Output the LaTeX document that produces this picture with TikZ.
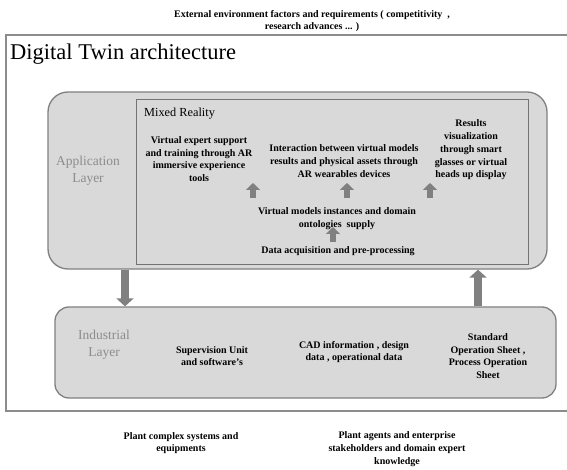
\documentclass[tikz,border=0pt]{standalone}
\usepackage{fontspec}
\setmainfont{Liberation Serif}
\usetikzlibrary{arrows.meta}

\tikzset{
  layerbox/.style={draw=black!50, line width=1.3pt, fill=black!15, rounded corners=#1},
  layerbox/.default=20pt,
  mrbox/.style={draw=black!55, line width=1pt, fill=black!15},
  boldtxt/.style={font=\fontsize{10}{12.8}\selectfont\bfseries, align=center, inner sep=0pt},
  layerlbl/.style={font=\fontsize{13.5}{17}\selectfont, text=black!45, align=center, inner sep=0pt},
  bigarrow/.style={line width=8pt, draw=black!50, -{Triangle[width=17pt,length=8pt]}},
  smallarrow/.style={line width=6pt, draw=black!50, -{Triangle[width=14pt,length=7pt]}}
}

\begin{document}
\begin{tikzpicture}[x=1pt,y=-1pt]
  \useasboundingbox (0,0) rectangle (567,470);

  % outside factors
  \node[boldtxt] (ext) at (312,21) {External environment factors and requirements ( competitivity\ \ ,\\research advances ... )};

  % architecture frame
  \draw[black!45, line width=1.2pt] (6,35) rectangle (580,411);
  \node[anchor=base west, inner sep=0pt, font=\fontsize{22.5}{24}\selectfont] (title) at (10,60) {Digital Twin architecture};

  % Application layer
  \node[layerbox, minimum width=499pt, minimum height=177pt, inner sep=0pt] (app) at (297.5,180.5) {};
  \node[mrbox, minimum width=392pt, minimum height=164pt, inner sep=0pt] (mr) at (332,182) {};
  \node[anchor=base west, inner sep=0pt, font=\fontsize{12.3}{14}\selectfont] (mrlbl) at (144,117) {Mixed Reality};
  \node[layerlbl] (applbl) at (88,171) {Application\\Layer};

  \node[boldtxt] (expert) at (199,159) {Virtual expert support\\and training through AR\\immersive experience\\tools};
  \node[boldtxt] (interact) at (344,161) {Interaction between virtual models\\results and physical assets through\\AR wearables devices};
  \node[boldtxt] (results) at (471,150) {Results\\visualization\\through smart\\glasses or virtual\\heads up display};
  \node[boldtxt] (vmi) at (337,219) {Virtual models instances and domain\\ontologies\ \ supply};
  \node[boldtxt] (daq) at (338,251) {Data acquisition and pre-processing};

  % small arrows inside the mixed reality box
  \coordinate (u1) at (253,198);
  \coordinate (u1t) at (253,183);
  \coordinate (u2) at (347,198);
  \coordinate (u2t) at (347,183);
  \coordinate (u3) at (430,198);
  \coordinate (u3t) at (430,183);
  \coordinate (u4) at (333,242);
  \coordinate (u4t) at (333,227);
  \draw[smallarrow] (u1) -- (u1t);
  \draw[smallarrow] (u2) -- (u2t);
  \draw[smallarrow] (u3) -- (u3t);
  \draw[smallarrow] (u4) -- (u4t);

  % Industrial layer
  \node[layerbox=14pt, minimum width=501pt, minimum height=91pt, inner sep=0pt] (ind) at (305.5,352.5) {};
  \node[layerlbl] (indlbl) at (104,345) {Industrial\\Layer};
  \node[boldtxt] (superv) at (212,356) {Supervision Unit\\and software's};
  \node[boldtxt] (cad) at (354,352) {CAD information , design\\data , operational data};
  \node[boldtxt] (sos) at (488,356) {Standard\\Operation Sheet ,\\Process Operation\\Sheet};

  % between the layers
  \coordinate (dn) at (125,0);
  \coordinate (up) at (478,0);
  \draw[bigarrow] (app.south -| dn) -- (ind.north -| dn);
  \draw[bigarrow] (ind.north -| up) -- (app.south -| up);

  % below the frame
  \node[boldtxt] (plant) at (181,443) {Plant complex systems and\\equipments};
  \node[boldtxt] (agents) at (397,449) {Plant agents and enterprise\\stakeholders and domain expert\\knowledge};
\end{tikzpicture}
\end{document}
